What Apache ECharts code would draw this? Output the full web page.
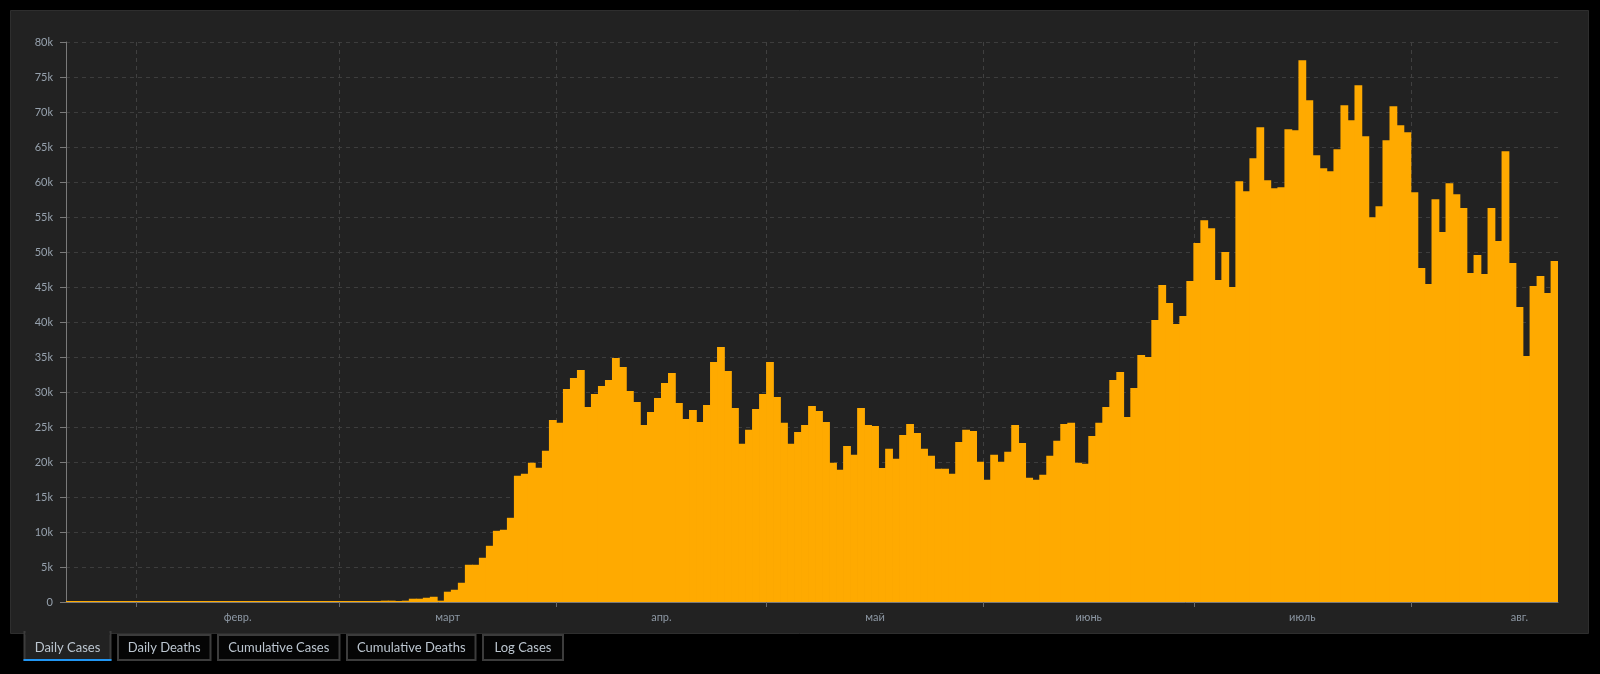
<!DOCTYPE html>
<html>
<head>
<meta charset="utf-8">
<script src="https://cdn.jsdelivr.net/npm/echarts@6/dist/echarts.min.js"></script>
<style>
html,body{margin:0;padding:0;background:#000;}
#chart{width:1600px;height:674px;}
</style>
</head>
<body>
<div id="chart"></div>
<script>
// ---- data (daily cases, one value per day starting 2020-01-22) ----
const startDate = '2020-01-22';
const casesJan = [1,0,1,0,3,0,0,0,0,2];
const casesFeb = [1,0,3,0,1,0,0,0,0,0,1,0,1,0,0,0,0,0,0,0,2,0,0,1,6,0,6,6,9];
const casesMar = [8,22,20,31,68,55,190,190,120,190,470,470,610,750,190,1470,1750,2750,5320,5320,6320,8030,10170,10320,12030,18020,18310,19880,19170,21590,26010];
const casesApr = [25590,30440,32010,33150,27870,29720,30870,31720,34860,33580,30150,28580,25300,27160,29150,31290,32720,28440,26160,27440,25730,28150,34290,36430,33010,27730,22590,24590,27580,29720];
const casesMay = [34290,29300,25590,22590,24300,25300,28010,27300,25730,19880,18880,22300,21020,27730,25300,25160,19160,21880,20450,23870,25440,24160,21880,20880,19020,19020,18310,22870,24590,24440,20020];
const casesJun = [17450,21020,20020,21450,25300,22730,17740,17450,18170,20880,23020,25440,25590,19880,19740,23730,25590,27870,31720,32860,26440,30580,35290,35000,40280,45280,42710,39710,40860,45850];
const casesJul = [51270,54550,53410,45990,49990,44990,60120,58690,63400,67830,60260,59120,59260,67540,67400,77390,71680,63830,61970,61550,64690,70960,68820,73820,66540,54980,56550,65970,70820,68110,67110];
const casesAug = [58550,47700,45420,57550,52840,59830,58260,56270,46990,49560,46850,56270,51560,64400,48420,42140,35150,45140,46560,44140,48700];
const monthLabels = ['февр.','март','апр.','май','июнь','июль','авг.'];
const yTicks = [0,5000,10000,15000,20000,25000,30000,35000,40000,45000,50000,55000,60000,65000,70000,75000,80000];
const tabLabels = ['Daily Cases','Daily Deaths','Cumulative Cases','Cumulative Deaths','Log Cases'];

// ---- build ----
const values = [].concat(casesJan,casesFeb,casesMar,casesApr,casesMay,casesJun,casesJul,casesAug);
const dates = [];
const d0 = new Date(startDate + 'T00:00:00Z');
for (let i = 0; i < values.length; i++) {
  const d = new Date(d0.getTime() + i * 86400000);
  dates.push(d.toISOString().slice(0,10));
}
// month starts (index) and label centres
const monthStarts = [];
dates.forEach((s,i)=>{ if (s.endsWith('-01')) monthStarts.push(i); });
const labelCenters = [];
const centerToLabel = {};
monthStarts.forEach((idx,k)=>{
  const y = +dates[idx].slice(0,4), m = +dates[idx].slice(5,7);
  const dim = new Date(Date.UTC(y, m, 0)).getUTCDate();
  const c = idx + dim/2;
  labelCenters.push(c);
  centerToLabel[c] = monthLabels[k];
});

const FONT = 'Lato';
const chart = echarts.init(document.getElementById('chart'), null, {renderer:'canvas'});

// tabs
const tabBoxes = [[23.5,111.5],[117,211.5],[217,340.5],[346,476.5],[482,564]];
const graphics = [
  {type:'rect', shape:{x:10.5,y:10.5,width:1578,height:623}, style:{fill:'#222222', stroke:'#2e2e2e', lineWidth:1}, z:-10, silent:true}
];
tabBoxes.forEach((b,i)=>{
  const active = i === 0;
  graphics.push({type:'rect', shape:{x:b[0]+1, y: active ? 632 : 635, width:b[1]-b[0]-2, height: active ? 28 : 25},
    style:{fill: active ? '#222222' : '#050505', stroke:'#3c3c3c', lineWidth:2}, z:-5, silent:true});
  if (active) {
    graphics.push({type:'rect', shape:{x:b[0]+2, y:630, width:b[1]-b[0]-4, height:5}, style:{fill:'#222222'}, z:-4, silent:true});
    graphics.push({type:'rect', shape:{x:b[0], y:659, width:b[1]-b[0], height:2}, style:{fill:'#2196f3'}, z:-3, silent:true});
  }
  graphics.push({type:'text', x:(b[0]+b[1])/2, y:648, style:{text:tabLabels[i], fill:'#bcc6d0', font:'13px '+FONT, align:'center', verticalAlign:'middle'}, z:-2, silent:true});
});

chart.setOption({
  animation:false,
  backgroundColor:'#000000',
  textStyle:{fontFamily:FONT},
  graphic: graphics,
  grid:{left:66, right:42, top:42, bottom:72, containLabel:false},
  xAxis:[
    {
      type:'category', data:dates, boundaryGap:true,
      axisLine:{show:true, lineStyle:{color:'#7a7a7a', width:1}},
      axisTick:{show:false},
      axisLabel:{show:false},
      splitLine:{show:false}
    },
    {
      type:'value', min:0, max:values.length, position:'bottom',
      axisLine:{show:false},
      axisTick:{show:true, length:5, customValues:monthStarts, lineStyle:{color:'#6a6a6a'}},
      splitLine:{show:true, lineStyle:{color:'#404040', type:[4,4], width:1}},
      axisLabel:{show:true, customValues:labelCenters, margin:10, color:'#8c97a3', fontSize:11, fontFamily:FONT,
        formatter:(v)=>centerToLabel[v] || ''}
    }
  ],
  yAxis:{
    type:'value', min:0, max:80000, interval:5000,
    axisLine:{show:true, lineStyle:{color:'#7a7a7a'}},
    axisTick:{show:true, length:6, lineStyle:{color:'#7a7a7a'}},
    axisLabel:{color:'#97a2ae', fontSize:11, margin:13, fontFamily:FONT,
      formatter:(v)=> v === 0 ? '0' : (v/1000)+'k', customValues: yTicks},
    splitLine:{show:true, lineStyle:{color:'#3d3d3d', type:[4,4], width:1}}
  },
  series:[{
    type:'bar', xAxisIndex:0, data:values,
    barWidth:7.8, barGap:'-100%',
    itemStyle:{color:'#ffaa00'},
    barMinHeight:1,
    emphasis:{disabled:true}
  }]
});
</script>
</body>
</html>
